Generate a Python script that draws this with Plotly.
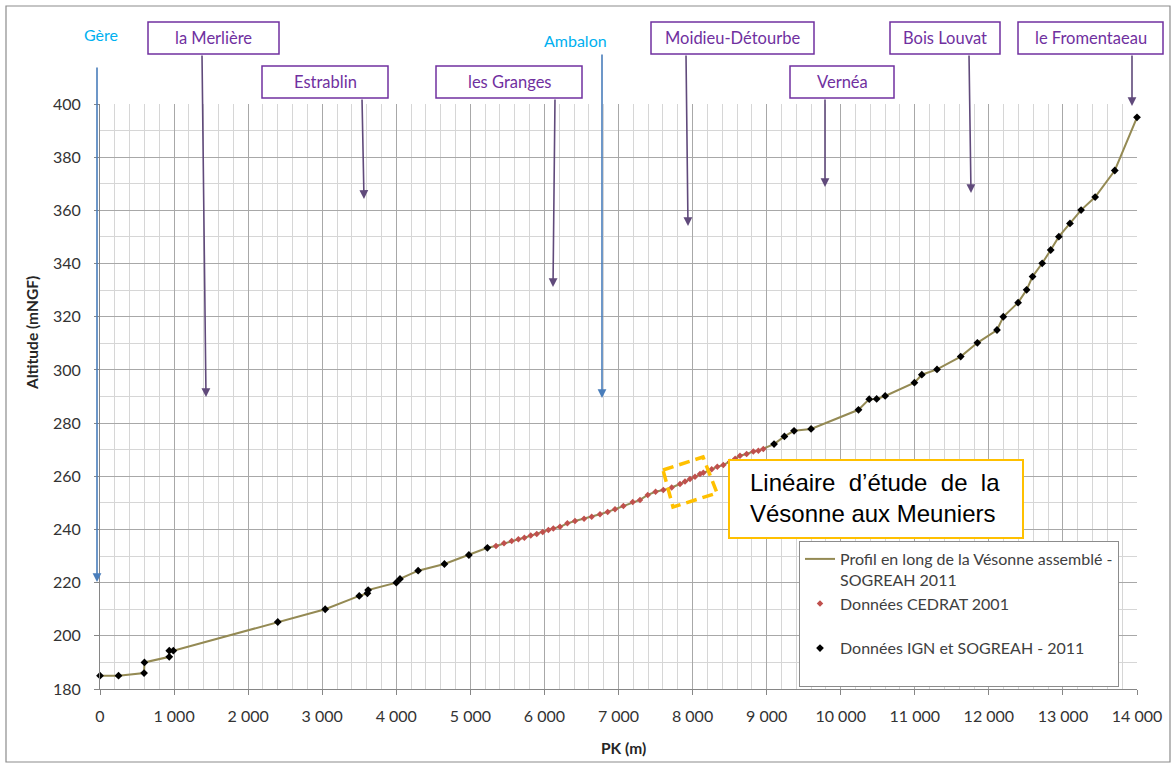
import plotly.graph_objects as go

# ---------------- data ----------------
# Données IGN et SOGREAH - 2011
ign_pk = [0, 250, 595, 600, 935, 935, 990, 2400, 3040, 3500, 3610, 3620, 4000, 4050,
          4295, 4650, 4980, 5230, 9100, 9240, 9370, 9600, 10240, 10385, 10485, 10600,
          10995, 11095, 11300, 11620, 11845, 12110, 12195, 12395, 12510, 12590, 12720,
          12835, 12945, 13095, 13245, 13435, 13700, 14000]
ign_alt = [185, 185, 186, 190, 192.1, 194.4, 194.4, 205.2, 210, 215, 216, 217.2, 220, 221.4,
           224.5, 227, 230.4, 233.1, 272.1, 275, 277.1, 277.8, 285, 289, 289.1, 290.2,
           295.2, 298.2, 300.2, 305, 310.2, 315, 320, 325.3, 330.1, 335.1, 340.1,
           345.1, 350.1, 355.1, 360.1, 365, 375, 395]

# Données CEDRAT 2001
cedrat_pk = [5346, 5454, 5558, 5648, 5729, 5815, 5896, 5977, 6053, 6120, 6210, 6310, 6413,
             6535, 6638, 6750, 6854, 6953, 7066, 7192, 7290, 7395, 7500, 7605, 7718, 7830,
             7898, 7965, 8033, 8100, 8145, 8258, 8334, 8415, 8505, 8575, 8640, 8730, 8820,
             8888, 8955]
cedrat_alt = [233.8, 234.8, 235.7, 236.3, 236.9, 237.7, 238.3, 239.0, 239.8, 240.4, 241.0,
              242.3, 243.2, 244.0, 244.8, 245.7, 246.6, 247.6, 248.8, 250.3, 251.1, 253.0,
              254.2, 254.8, 255.8, 257.1, 258.0, 259.0, 259.8, 260.9, 261.3, 262.6, 263.6,
              264.2, 265.5, 266.6, 267.7, 268.4, 269.3, 269.6, 270.3]

x_tick_vals = [0, 1000, 2000, 3000, 4000, 5000, 6000, 7000, 8000, 9000, 10000, 11000, 12000, 13000, 14000]
x_tick_text = ["0", "1\u00a0000", "2\u00a0000", "3\u00a0000", "4\u00a0000", "5\u00a0000", "6\u00a0000",
               "7\u00a0000", "8\u00a0000", "9\u00a0000", "10\u00a0000", "11\u00a0000", "12\u00a0000",
               "13\u00a0000", "14\u00a0000"]
y_tick_vals = [180, 200, 220, 240, 260, 280, 300, 320, 340, 360, 380, 400]
y_tick_text = ["180", "200", "220", "240", "260", "280", "300", "320", "340", "360", "380", "400"]

places = ["la Merlière", "Estrablin", "les Granges", "Moidieu-Détourbe", "Vernéa",
          "Bois Louvat", "le Fromentaeau"]
rivers = ["Gère", "Ambalon"]

legend_names = ["Profil en long de la Vésonne assemblé -<br>SOGREAH 2011",
                "Données CEDRAT 2001<br> ",
                "Données IGN et SOGREAH - 2011<br> "]
study_text = "Linéaire\u00a0\u00a0d’étude\u00a0\u00a0de\u00a0\u00a0la<br>Vésonne aux Meuniers"

# assembled profile = all points ordered by PK
profile = sorted(zip(ign_pk + cedrat_pk, ign_alt + cedrat_alt))
profile_pk = [p[0] for p in profile]
profile_alt = [p[1] for p in profile]

# ---------------- layout geometry (pixels) ----------------
W, H = 1174, 765
L, R, T, B = 100, 1137, 104, 689


def px(xp):
    return (xp - L) / (R - L)


def py(yp):
    return (B - yp) / (B - T)


FONT = "Lato, 'Open Sans', sans-serif"
PURPLE = "#7030A0"
ARROW_PURPLE = "#604A7B"

fig = go.Figure()
fig.add_trace(go.Scatter(x=profile_pk, y=profile_alt, mode="lines",
                         line=dict(color="#948A54", width=2), name=legend_names[0]))
fig.add_trace(go.Scatter(x=cedrat_pk, y=cedrat_alt, mode="markers",
                         marker=dict(symbol="diamond", size=5, color="#C0504D"),
                         name=legend_names[1]))
fig.add_trace(go.Scatter(x=ign_pk, y=ign_alt, mode="markers",
                         marker=dict(symbol="diamond", size=6, color="black"),
                         name=legend_names[2], cliponaxis=False))

shapes = []
annotations = []

# place boxes (x0, x1, y0, y1 in px) and arrow (tail px, head px)
place_boxes = [
    (148, 279, 22, 54, (202, 54), (206, 397)),
    (262, 388, 66, 98, (362, 98), (364, 199)),
    (436, 582, 66, 98, (555, 98), (553, 287)),
    (651, 814, 22, 54, (686, 54), (688, 226)),
    (790, 894, 66, 98, (825, 98), (825, 187)),
    (890, 1000, 22, 54, (969, 54), (971, 193)),
    (1018, 1163, 22, 54, (1132, 54), (1132, 106)),
]
for name, (x0, x1, y0, y1, tail, head) in zip(places, place_boxes):
    shapes.append(dict(type="rect", xref="paper", yref="paper",
                       x0=px(x0), x1=px(x1), y0=py(y1), y1=py(y0),
                       line=dict(color=PURPLE, width=1.5), fillcolor="white", layer="above"))
    annotations.append(dict(xref="paper", yref="paper", x=px((x0 + x1) / 2), y=py((y0 + y1) / 2),
                            text=name, showarrow=False, xanchor="center", yanchor="middle",
                            font=dict(family=FONT, size=16.5, color=PURPLE)))
    annotations.append(dict(xref="paper", yref="paper", x=px(head[0]), y=py(head[1]),
                            ax=tail[0] - head[0], ay=tail[1] - head[1], text="",
                            showarrow=True, arrowhead=2, arrowsize=1.1, arrowwidth=1.6,
                            arrowcolor=ARROW_PURPLE, standoff=0, startstandoff=0))

# rivers (label centre px, tail px, head px)
river_marks = [((101, 35), (97, 66), (97, 582)),
               ((575, 41), (602, 53), (602, 398))]
for name, (lab, tail, head) in zip(rivers, river_marks):
    annotations.append(dict(xref="paper", yref="paper", x=px(lab[0]), y=py(lab[1]),
                            text=name, showarrow=False, xanchor="center", yanchor="middle",
                            font=dict(family=FONT, size=16, color="#00B0F0")))
    annotations.append(dict(xref="paper", yref="paper", x=px(head[0]), y=py(head[1]),
                            ax=tail[0] - head[0], ay=tail[1] - head[1], text="",
                            showarrow=True, arrowhead=2, arrowsize=1.1, arrowwidth=1.6,
                            arrowcolor="#4A7EBB", standoff=0, startstandoff=0))

# study box
shapes.append(dict(type="rect", xref="paper", yref="paper",
                   x0=px(729), x1=px(1023), y0=py(538), y1=py(460),
                   line=dict(color="#FFC000", width=2), fillcolor="white", layer="above"))
annotations.append(dict(xref="paper", yref="paper", x=px(748), y=py(498),
                        text=study_text, showarrow=False, xanchor="left", yanchor="middle",
                        align="left",
                        font=dict(family="Liberation Sans, Arial, sans-serif", size=24, color="black")))

# dashed rotated square around the study zone
corners = [(663, 470), (703, 457), (717, 493), (673, 507)]
path = "M " + " L ".join(f"{px(cx):.5f},{py(cy):.5f}" for cx, cy in corners) + " Z"
shapes.append(dict(type="path", xref="paper", yref="paper", path=path,
                   line=dict(color="#FFC000", width=3.5, dash="11px,6px"), layer="above"))

# outer frame
shapes.append(dict(type="rect", xref="paper", yref="paper",
                   x0=px(6), x1=px(1170), y0=py(762), y1=py(6),
                   line=dict(color="#8C8C8C", width=1.2), layer="above"))

# axis titles
annotations.append(dict(xref="paper", yref="paper", x=px(32), y=py(333), text="<b>Altitude (mNGF)</b>",
                        textangle=-90, showarrow=False, xanchor="center", yanchor="middle",
                        font=dict(family=FONT, size=15.5, color="#262626")))
annotations.append(dict(xref="paper", yref="paper", x=px(623), y=py(748), text="<b>PK (m)</b>",
                        showarrow=False, xanchor="center", yanchor="middle",
                        font=dict(family=FONT, size=15.5, color="#262626")))

fig.update_layout(
    width=W, height=H,
    margin=dict(l=L, r=W - R, t=T, b=H - B, pad=0),
    paper_bgcolor="white", plot_bgcolor="white",
    font=dict(family=FONT, size=16, color="#333333"),
    shapes=shapes, annotations=annotations,
    showlegend=True,
    legend=dict(x=px(799), y=py(541), xanchor="left", yanchor="top",
                bgcolor="white", bordercolor="#8C8C8C", borderwidth=1,
                font=dict(family=FONT, size=16, color="#404040"),
                valign="top", tracegroupgap=0, itemwidth=30),
    xaxis=dict(range=[0, 14000], tickvals=x_tick_vals, ticktext=x_tick_text,
               showgrid=True, gridcolor="#A8A8A8", gridwidth=1.4,
               minor=dict(dtick=200, tick0=0, showgrid=True, gridcolor="#D6D6D6", gridwidth=1.4),
               showline=True, linecolor="#868686", linewidth=1,
               ticks="outside", ticklen=5, tickcolor="#868686",
               ticklabelstandoff=8, zeroline=False,
               tickfont=dict(family=FONT, size=16, color="#333333")),
    yaxis=dict(range=[180, 400], tickvals=y_tick_vals, ticktext=y_tick_text,
               showgrid=True, gridcolor="#A8A8A8", gridwidth=1.4,
               minor=dict(dtick=10, tick0=180, showgrid=True, gridcolor="#D6D6D6", gridwidth=1.4),
               showline=True, linecolor="#868686", linewidth=1,
               ticks="outside", ticklen=5, tickcolor="#868686",
               ticklabelstandoff=10, zeroline=False,
               tickfont=dict(family=FONT, size=16, color="#333333")),
)

fig.write_html("out.html", config={"displayModeBar": False},
               post_script="document.body.style.margin='0px';")
